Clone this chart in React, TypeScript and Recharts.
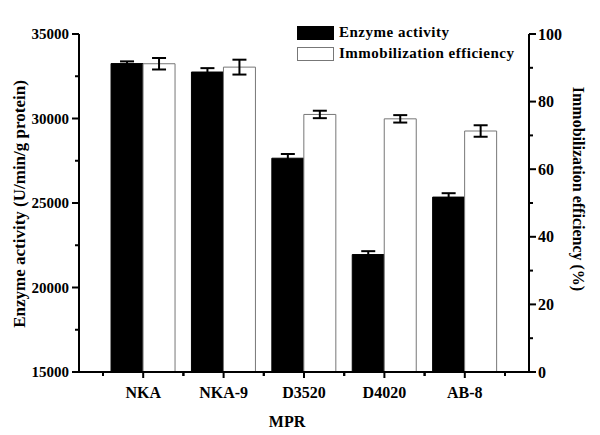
import React from 'react';
import { ComposedChart, Bar, XAxis, YAxis, ErrorBar, Legend } from 'recharts';

const categories = ['NKA', 'NKA-9', 'D3520', 'D4020', 'AB-8'];
const enzymeActivity = [33250, 32750, 27650, 21950, 25350];
const enzymeActivityError = [130, 230, 250, 200, 230];
const immobilizationEfficiency = [91.2, 90.2, 76.2, 74.9, 71.3];
const immobilizationEfficiencyError = [1.7, 2.2, 1.1, 1.1, 1.7];
const leftTicks = [15000, 17500, 20000, 22500, 25000, 27500, 30000, 32500, 35000];
const leftMajorStep = 5000;
const rightTicks = [0, 10, 20, 30, 40, 50, 60, 70, 80, 90, 100];
const rightMajorStep = 20;
const categoryEdges = [0, 1, 2, 3, 4, 5];
const X_PAD = 24;

const data = categories.map((c, i) => ({
  mpr: c,
  edge: i + 0.5,
  enzyme: enzymeActivity[i],
  enzymeErr: enzymeActivityError[i],
  eff: immobilizationEfficiency[i],
  effErr: immobilizationEfficiencyError[i],
}));

const FONT = '"Liberation Serif", "Times New Roman", serif';

const LeftTick = (props: any) => {
  const { x, y, payload } = props;
  const major = payload.value % leftMajorStep === 0;
  return (
    <g>
      <line x1={x} x2={x - (major ? 7 : 4)} y1={y} y2={y} stroke="#000" strokeWidth={2} />
      {major && (
        <text x={x - 10} y={y} textAnchor="end" dominantBaseline="central" fontFamily={FONT} fontWeight="bold" fontSize={15} fill="#000">
          {payload.value}
        </text>
      )}
    </g>
  );
};

const RightTick = (props: any) => {
  const { x, y, payload } = props;
  const major = payload.value % rightMajorStep === 0;
  return (
    <g>
      <line x1={x} x2={x + (major ? 7 : 4)} y1={y} y2={y} stroke="#000" strokeWidth={2} />
      {major && (
        <text x={x + 9} y={y} textAnchor="start" dominantBaseline="central" fontFamily={FONT} fontWeight="bold" fontSize={16} fill="#000">
          {payload.value}
        </text>
      )}
    </g>
  );
};

const BottomTick = (props: any) => {
  const { x, y, payload, width, visibleTicksCount, index } = props;
  const w = Number(width);
  const n = Number(visibleTicksCount) || categories.length;
  const half = isFinite(w) && w > 0 ? (w - 2 * X_PAD) / n / 2 : 0;
  return (
    <g>
      <line x1={x} x2={x} y1={y} y2={y + 6} stroke="#000" strokeWidth={2} />
      {half > 0 && <line x1={x - half} x2={x - half} y1={y} y2={y + 4} stroke="#000" strokeWidth={2} />}
      {half > 0 && index === n - 1 && <line x1={x + half} x2={x + half} y1={y} y2={y + 4} stroke="#000" strokeWidth={2} />}
      <text x={x} y={y + 20} textAnchor="middle" dominantBaseline="central" fontFamily={FONT} fontWeight="bold" fontSize={16} fill="#000">
        {payload.value}
      </text>
    </g>
  );
};

const MinorTick = (props: any) => {
  const { x, y } = props;
  return <line x1={x} x2={x} y1={y - 1} y2={y + 3} stroke="#000" strokeWidth={2} />;
};

const LeftLabel = (props: any) => {
  const vb = props.viewBox || {};
  const cx = vb.x + 19;
  const cy = vb.y + vb.height / 2 + 1;
  return (
    <text x={cx} y={cy} transform={`rotate(-90 ${cx} ${cy})`} textAnchor="middle" dominantBaseline="central" fontFamily={FONT} fontWeight="bold" fontSize={17} fill="#000">
      Enzyme activity (U/min/g protein)
    </text>
  );
};

const RightLabel = (props: any) => {
  const vb = props.viewBox || {};
  const cx = vb.x + 49;
  const cy = vb.y + vb.height / 2 - 14;
  return (
    <text x={cx} y={cy} transform={`rotate(90 ${cx} ${cy})`} textAnchor="middle" dominantBaseline="central" fontFamily={FONT} fontWeight="bold" fontSize={16} fill="#000">
      Immobilization efficiency (%)
    </text>
  );
};

const BottomLabel = (props: any) => {
  const vb = props.viewBox || {};
  const cx = vb.x + vb.width / 2 - 17;
  const cy = vb.y + 49;
  return (
    <text x={cx} y={cy} textAnchor="middle" dominantBaseline="central" fontFamily={FONT} fontWeight="bold" fontSize={16} fill="#000">
      MPR
    </text>
  );
};

const LegendContent = (props: any) => {
  const payload = props.payload || [];
  return (
    <div style={{ fontFamily: FONT, fontWeight: 'bold', fontSize: 15, letterSpacing: 0.5, color: '#000' }}>
      {payload.map((p: any, i: number) => (
        <div key={i} style={{ display: 'flex', alignItems: 'center', height: 21 }}>
          <div
            style={{
              width: 35,
              height: 12,
              background: p.payload?.fill ?? p.color,
              border: `1px solid ${p.payload?.stroke ?? '#000'}`,
              marginRight: 5,
            }}
          />
          <span style={{ whiteSpace: 'nowrap' }}>{p.value}</span>
        </div>
      ))}
    </div>
  );
};

export default function App() {
  return (
    <div style={{ position: 'absolute', left: 0, top: 0, width: 600, height: 435, background: '#fff' }}>
      <ComposedChart
        width={600}
        height={435}
        data={data}
        margin={{ top: 34, right: 0, bottom: 0, left: 0 }}
        barCategoryGap="10%"
        barGap={0}
      >
        <XAxis
          xAxisId="aMain"
          dataKey="mpr"
          padding={{ left: X_PAD, right: X_PAD }}
          axisLine={{ stroke: '#000', strokeWidth: 2 }}
          tickLine={false}
          tickSize={0}
          tickMargin={0}
          tick={<BottomTick />}
          height={1}
          interval={0}
          label={<BottomLabel />}
        />
        <XAxis
          xAxisId="zMinor"
          dataKey="edge"
          type="number"
          domain={[0, categories.length]}
          ticks={categoryEdges}
          allowDataOverflow
          padding={{ left: X_PAD, right: X_PAD }}
          axisLine={false}
          tickLine={false}
          tickSize={0}
          tickMargin={0}
          tick={<MinorTick />}
          height={62}
          interval={0}
        />
        <YAxis
          yAxisId="left"
          orientation="left"
          width={79}
          domain={[15000, 35000]}
          ticks={leftTicks}
          allowDataOverflow
          axisLine={{ stroke: '#000', strokeWidth: 2 }}
          tickLine={false}
          tickSize={0}
          tickMargin={0}
          tick={<LeftTick />}
          interval={0}
          label={<LeftLabel />}
        />
        <YAxis
          yAxisId="right"
          orientation="right"
          width={71}
          domain={[0, 100]}
          ticks={rightTicks}
          axisLine={{ stroke: '#000', strokeWidth: 2 }}
          tickLine={false}
          tickSize={0}
          tickMargin={0}
          tick={<RightTick />}
          interval={0}
          label={<RightLabel />}
        />
        <Legend
          layout="vertical"
          verticalAlign="middle"
          align="center"
          wrapperStyle={{ position: 'absolute', top: 22, left: 297, width: 240 }}
          content={<LegendContent />}
        />
        <Bar xAxisId="aMain" yAxisId="left" dataKey="enzyme" name="Enzyme activity" fill="#000000" stroke="#000000" isAnimationActive={false}>
          <ErrorBar dataKey="enzymeErr" width={7} stroke="#000" strokeWidth={2} isAnimationActive={false} />
        </Bar>
        <Bar xAxisId="aMain" yAxisId="right" dataKey="eff" name="Immobilization efficiency" fill="#ffffff" stroke="#777777" strokeWidth={1} isAnimationActive={false}>
          <ErrorBar dataKey="effErr" width={7} stroke="#000" strokeWidth={2} isAnimationActive={false} />
        </Bar>
      </ComposedChart>
    </div>
  );
}
